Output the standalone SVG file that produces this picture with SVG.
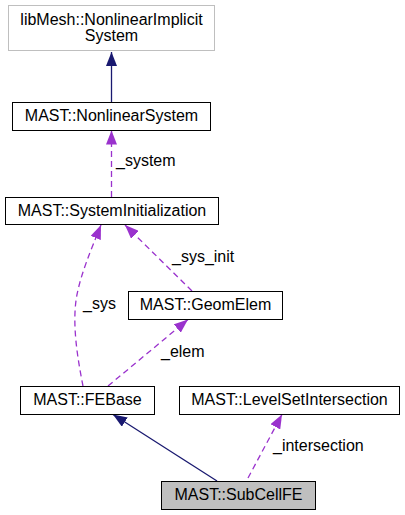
<svg xmlns="http://www.w3.org/2000/svg" width="405" height="515" viewBox="0 0 405 515">
<style>
text{font-family:"Liberation Sans",Arial,sans-serif;font-size:16px;fill:#000;}
.n rect{fill:#fff;stroke:#000;stroke-width:1;}
.t{text-anchor:middle;}
.solid{fill:none;stroke:#191970;stroke-width:1.3;}
.dash{fill:none;stroke:#9a32cd;stroke-width:1.3;stroke-dasharray:6,4;}
</style>
<defs>
<marker id="an" markerUnits="userSpaceOnUse" markerWidth="14" markerHeight="11" refX="14" refY="5.5" orient="auto" viewBox="0 0 14 11"><path d="M0,0 L14,5.5 L0,11 Z" fill="#191970" stroke="none"/></marker>
<marker id="ap" markerUnits="userSpaceOnUse" markerWidth="14" markerHeight="11" refX="14" refY="5.5" orient="auto" viewBox="0 0 14 11"><path d="M0,0 L14,5.5 L0,11 Z" fill="#9a32cd" stroke="none"/></marker>
</defs>
<rect width="405" height="515" fill="#fff"/>
<g id="connectors">
<path class="solid" d="M111.5,102 L111.5,52" marker-end="url(#an)"/>
<path class="dash" d="M111.5,197 L111.5,130.5" marker-end="url(#ap)"/>
<text x="116" y="166">_system</text>
<path class="dash" d="M83,386 C77,356 71,318 78,290 C82,272 90,252 101,225" marker-end="url(#ap)"/>
<text x="83" y="309">_sys</text>
<path class="dash" d="M192,291 L125,225" marker-end="url(#ap)"/>
<text x="172" y="262">_sys_init</text>
<path class="dash" d="M108,386 L188,319.5" marker-end="url(#ap)"/>
<text x="161" y="357">_elem</text>
<path class="solid" d="M217,481 L113,414.5" marker-end="url(#an)"/>
<path class="dash" d="M248,478 L282,414.5" marker-end="url(#ap)"/>
<text x="273" y="451">_intersection</text>
</g>
<g id="node_libmesh" class="n">
<rect x="8.5" y="5.5" width="206" height="45" style="stroke:#bfbfbf"/>
<text class="t" x="111.5" y="25">libMesh::NonlinearImplicit</text>
<text class="t" x="111.5" y="41">System</text>
</g>
<g id="node_nonlinearsystem" class="n">
<rect x="12.5" y="102.5" width="198" height="28"/>
<text class="t" x="111.5" y="121">MAST::NonlinearSystem</text>
</g>
<g id="node_systeminit" class="n">
<rect x="5.5" y="197.5" width="213" height="27"/>
<text class="t" x="112" y="216">MAST::SystemInitialization</text>
</g>
<g id="node_geomelem" class="n">
<rect x="128.5" y="291.5" width="154" height="28"/>
<text class="t" x="205.5" y="310">MAST::GeomElem</text>
</g>
<g id="node_febase" class="n">
<rect x="20.5" y="386.5" width="134" height="28"/>
<text class="t" x="87.5" y="405">MAST::FEBase</text>
</g>
<g id="node_levelset" class="n">
<rect x="179.5" y="386.5" width="220" height="28"/>
<text class="t" x="289.5" y="405">MAST::LevelSetIntersection</text>
</g>
<g id="node_subcellfe" class="n">
<rect x="161.5" y="481.5" width="154" height="28" style="fill:#bfbfbf"/>
<text class="t" x="238.5" y="500">MAST::SubCellFE</text>
</g>
</svg>
